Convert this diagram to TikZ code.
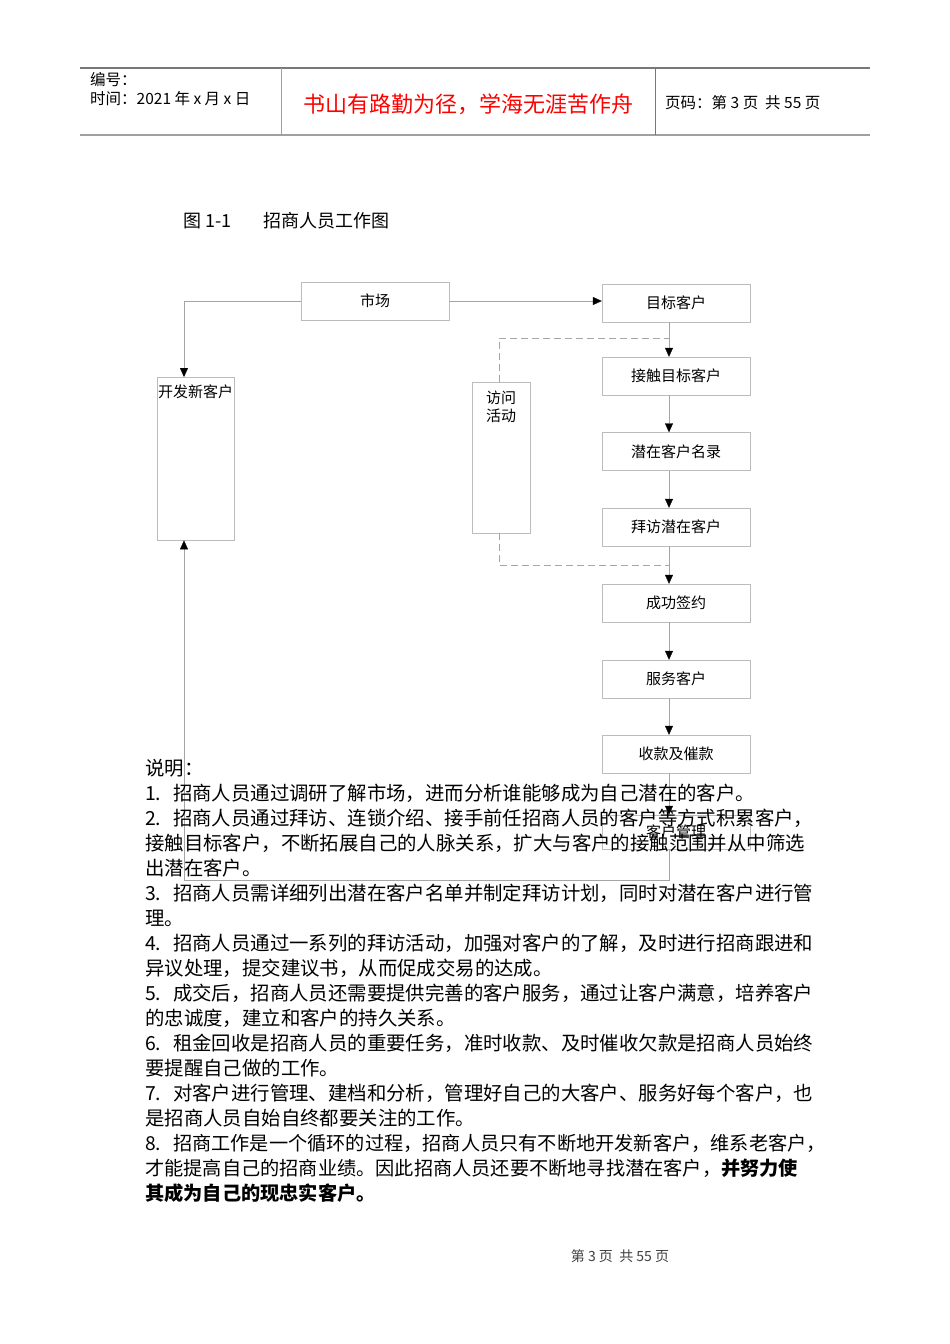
\documentclass[tikz,border=0pt]{standalone}
\usepackage{fontspec}
\setmainfont{Noto Sans CJK SC}
\usetikzlibrary{arrows.meta}
\definecolor{boxgray}{RGB}{188,188,188}
\definecolor{linegray}{RGB}{165,165,165}
\definecolor{rulegray}{RGB}{120,120,120}
\newcommand\numbox[1]{\makebox[28pt][l]{#1}}
\begin{document}
\begin{tikzpicture}[x=1pt,y=-1pt,
  box/.style={draw=boxgray, minimum width=148pt, minimum height=38pt, inner sep=1pt, font=\fontsize{15}{17}\selectfont},
  tallbox/.style={draw=boxgray, anchor=north, inner sep=0pt},
  inlabel/.style={anchor=north, inner sep=0pt, yshift=-8pt, align=center, font=\fontsize{15}{18}\selectfont},
  arr/.style={draw=linegray, -{Triangle[width=8pt,length=9pt,color=black]}},
  loopdash/.style={draw=linegray, dash pattern=on 7pt off 4pt},
  hdr/.style={anchor=west, inner sep=0pt, font=\fontsize{15.5}{17}\selectfont},
  txt/.style={anchor=west, inner sep=0pt, font=\fontsize{19.4}{24}\selectfont},
  txtb/.style={anchor=west, inner sep=0pt, font=\fontsize{19.2}{24}\selectfont}]
\useasboundingbox (0,0) rectangle (950,1344);
\fill[white] (0,0) rectangle (950,1344);

\draw[rulegray, line width=1.2pt] (80,68) -- (870,68);
\draw[rulegray!70, line width=1.8pt] (80,135) -- (870,135);
\draw[rulegray!70] (281,68) -- (281,135);
\draw[rulegray] (655,68) -- (655,135);
\node[hdr] (bh) at (90,80) {编号：};
\node[hdr] (sj) at (90,99) {时间：2021 年 x 月 x 日};
\node[inner sep=0pt, text=red, font=\fontsize{22}{24}\selectfont] (motto) at (468,104) {书山有路勤为径，学海无涯苦作舟};
\node[hdr] (ym) at (665,103) {页码：第 3 页\ \ 共 55 页};

\node[anchor=west, inner sep=0pt, font=\fontsize{18}{20}\selectfont] (cap) at (183,221) {\makebox[80pt][l]{图 1-1}招商人员工作图};

\node[box] (sc) at (375,301) {市场};
\node[box] (mb) at (676,303) {目标客户};
\node[box] (jc) at (676,376) {接触目标客户};
\node[box] (qz) at (676,451.5) {潜在客户名录};
\node[box] (bf) at (676,527) {拜访潜在客户};
\node[box] (cg) at (676,603) {成功签约};
\node[box] (fw) at (676,679) {服务客户};
\node[box] (sk) at (676,754) {收款及催款};
\node[box, minimum height=34pt] (gl) at (676,832) {客户管理};
\node[tallbox, minimum width=77pt, minimum height=163pt, label={[inlabel]north:开发新客户}] (kf) at (195.5,377) {};
\node[tallbox, minimum width=58pt, minimum height=151pt, label={[inlabel, yshift=-1pt]north:访问\\活动}] (hd) at (501,382) {};

\coordinate (dashT) at (669,338);
\coordinate (dashB) at (669,565);
\coordinate (loopR) at (669,880);

\draw[arr] (sc.east) -- (sc.east -| mb.west);
\draw[arr] (sc.west) -| ([xshift=-11.5pt]kf.north);
\draw[arr] ([xshift=-7pt]mb.south) -- ([xshift=-7pt]jc.north);
\draw[arr] ([xshift=-7pt]jc.south) -- ([xshift=-7pt]qz.north);
\draw[arr] ([xshift=-7pt]qz.south) -- ([xshift=-7pt]bf.north);
\draw[arr] ([xshift=-7pt]bf.south) -- ([xshift=-7pt]cg.north);
\draw[arr] ([xshift=-7pt]cg.south) -- ([xshift=-7pt]fw.north);
\draw[arr] ([xshift=-7pt]fw.south) -- ([xshift=-7pt]sk.north);
\draw[arr] ([xshift=-7pt]sk.south) -- ([xshift=-7pt]gl.north);
\draw[arr] ([xshift=-7pt]gl.south) -- (loopR) -| ([xshift=-11.5pt]kf.south);
\draw[loopdash] ([xshift=-2pt]hd.north) |- (dashT);
\draw[loopdash] ([xshift=-2pt]hd.south) |- (dashB);

\node[txt] (t0) at (145,768) {说明：};
\node[txt] (t1) at (145,793) {\numbox{1.}招商人员通过调研了解市场，进而分析谁能够成为自己潜在的客户。};
\node[txt] (t2) at (145,818) {\numbox{2.}招商人员通过拜访、连锁介绍、接手前任招商人员的客户等方式积累客户，};
\node[txt] (t3) at (145,843) {接触目标客户，不断拓展自己的人脉关系，扩大与客户的接触范围并从中筛选};
\node[txt] (t4) at (145,868) {出潜在客户。};
\node[txt] (t5) at (145,893) {\numbox{3.}招商人员需详细列出潜在客户名单并制定拜访计划，同时对潜在客户进行管};
\node[txt] (t6) at (145,918) {理。};
\node[txt] (t7) at (145,943) {\numbox{4.}招商人员通过一系列的拜访活动，加强对客户的了解，及时进行招商跟进和};
\node[txt] (t8) at (145,968) {异议处理，提交建议书，从而促成交易的达成。};
\node[txt] (t9) at (145,993) {\numbox{5.}成交后，招商人员还需要提供完善的客户服务，通过让客户满意，培养客户};
\node[txt] (t10) at (145,1018) {的忠诚度，建立和客户的持久关系。};
\node[txt] (t11) at (145,1043) {\numbox{6.}租金回收是招商人员的重要任务，准时收款、及时催收欠款是招商人员始终};
\node[txt] (t12) at (145,1068) {要提醒自己做的工作。};
\node[txt] (t13) at (145,1093) {\numbox{7.}对客户进行管理、建档和分析，管理好自己的大客户、服务好每个客户，也};
\node[txt] (t14) at (145,1118) {是招商人员自始自终都要关注的工作。};
\node[txtb] (t15) at (145,1143) {\numbox{8.}招商工作是一个循环的过程，招商人员只有不断地开发新客户，维系老客户，};
\node[txtb] (t16) at (145,1168) {才能提高自己的招商业绩。因此招商人员还要不断地寻找潜在客户，\textbf{并努力使}};
\node[txtb] (t17) at (145,1193) {\textbf{其成为自己的现忠实客户。}};

\node[inner sep=0pt, text=black!75, font=\fontsize{14}{16}\selectfont] (foot) at (620,1256) {第\ 3\ 页\ \ 共\ 55\ 页};
\end{tikzpicture}
\end{document}
